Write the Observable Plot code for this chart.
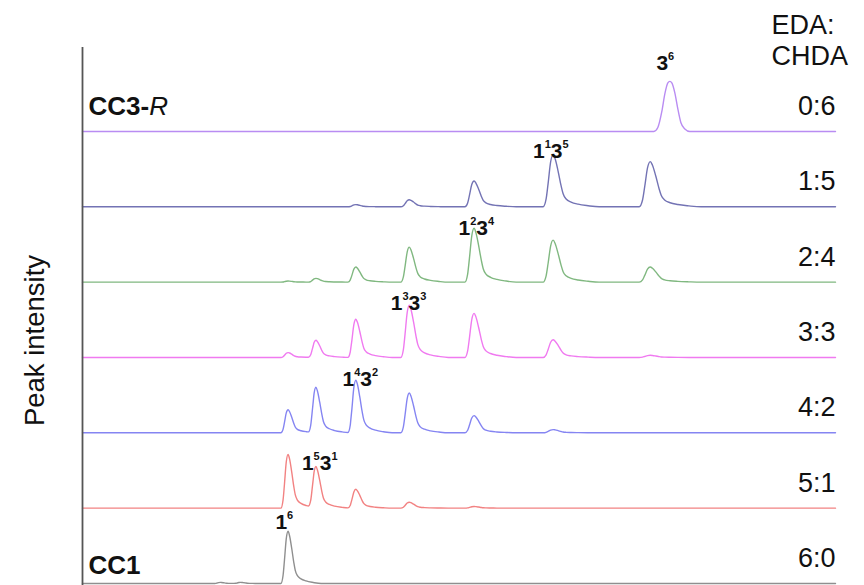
<!DOCTYPE html>
<html>
<head>
<meta charset="utf-8">
<script src="https://cdn.jsdelivr.net/npm/d3@7"></script>
<script src="https://cdn.jsdelivr.net/npm/@observablehq/plot@0.6"></script>
<style>
  html, body { margin: 0; padding: 0; background: #fff; }
  svg { display: block; }
</style>
</head>
<body>
<div id="chart"></div>
<script>
// ---- data ----
const ratios = ["6:0", "5:1", "4:2", "3:3", "2:4", "1:5", "0:6"];   // bottom -> top
const traceColors = ["#8f8f8f", "#f28282", "#8585f2", "#f07af0", "#80b880", "#7373b4", "#b98cf2"];
// peak positions (relative m/z, 0-100) and heights (relative intensity) per trace
const peakPositions = [
  [18.3, 21.0, 27.3],
  [27.3, 31.0, 36.3, 43.4, 52.0],
  [27.3, 31.0, 36.3, 43.4, 52.0, 62.5],
  [27.3, 31.0, 36.3, 43.4, 52.0, 62.5, 75.4],
  [27.3, 31.0, 36.3, 43.4, 52.0, 62.5, 75.4],
  [36.3, 43.4, 52.0, 62.5, 75.4],
  [78.0]
];
const peakHeights = [
  [2, 2, 97],
  [100, 76, 35, 11, 3],
  [43, 84, 98, 74, 32, 6],
  [9, 32, 71, 97, 82, 33, 4],
  [2, 7, 28, 65, 100, 78, 28],
  [4, 13, 48, 97, 84],
  [93]
];
// peak annotations
const labelText = ["1^6", "1^5 3^1", "1^4 3^2", "1^3 3^3", "1^2 3^4", "1^1 3^5", "3^6"];
const labelX = [26.8, 31.5, 36.9, 43.3, 52.3, 62.2, 77.4];
const labelY = [114, 224, 379, 521, 660, 804, 967];
const nameText = ["CC1", "CC3-R"];
const nameTrace = [0, 6];
const headerText = "EDA:\nCHDA";
const yLabel = "Peak intensity";

// ---- layout / style constants ----
const step = 140;            // intensity offset between stacked traces
const pxPerUnit = 7.53;      // x: px per relative m/z unit
// peak profile glyphs: [offset px, fraction of height]
const tailProfile = [[-10,0],[-7,0.15],[-5,0.45],[-2.5,0.86],[0,1],[2,0.92],[5,0.68],[8,0.4],[10,0.25],[13,0.15],[18,0.09],[25,0.05],[35,0.02],[46,0]];
const gaussProfile = [[-16,0],[-12,0.08],[-8,0.4],[-5,0.75],[-2,0.97],[0,1],[2,0.97],[5,0.77],[8,0.45],[11,0.18],[15,0.05],[20,0]];

function profileAt(prof, d) {
  if (d <= prof[0][0] || d >= prof[prof.length - 1][0]) return 0;
  for (let k = 1; k < prof.length; k++) {
    if (d <= prof[k][0]) {
      const [x0, y0] = prof[k - 1], [x1, y1] = prof[k];
      return y0 + (y1 - y0) * (d - x0) / (x1 - x0);
    }
  }
  return 0;
}

const rowsByTrace = ratios.map((r, i) => {
  const prof = i === 6 ? gaussProfile : tailProfile;
  const pos = peakPositions[i], hts = peakHeights[i];
  const wid = pos.map(p => i === 6 ? 1 : 0.5 + 0.008 * p);
  const xs = new Set([0, 100]);
  pos.forEach((p, j) => prof.forEach(([o]) => xs.add(+(p + o * wid[j] / pxPerUnit).toFixed(4))));
  const sorted = [...xs].filter(x => x >= 0 && x <= 100).sort((a, b) => a - b);
  return sorted.map(x => {
    let v = 0;
    pos.forEach((p, j) => { v += hts[j] * profileAt(prof, (x - p) * pxPerUnit / wid[j]); });
    return {x, y: i * step + v};
  });
});

const font = "'Liberation Sans', Arial, sans-serif";

const chart = Plot.plot({
  width: 864,
  height: 585,
  marginLeft: 82,
  marginRight: 29,
  marginTop: 47,
  marginBottom: 2,
  x: {domain: [0, 100], axis: null},
  y: {domain: [0, 996], axis: null},
  style: {fontFamily: font, background: "#fff", color: "#111", overflow: "visible"},
  marks: [
    ...rowsByTrace.map((rows, i) => Plot.line(rows, {x: "x", y: "y", stroke: traceColors[i], strokeWidth: 1.4, curve: "monotone-x"})),
    Plot.ruleX([0], {stroke: "#555", strokeWidth: 1.8, insetBottom: -3}),
    Plot.text(ratios, {x: 100, y: (d, i) => i * step, text: d => d, dy: -25, textAnchor: "end", fontSize: 27, fill: "#111"}),
    Plot.text([headerText], {frameAnchor: "top-right", textAnchor: "start", lineAnchor: "top", lineHeight: 1.16, dx: -64, dy: -36, fontSize: 27, fill: "#111"}),
    Plot.text([nameText[0]], {x: 0, y: nameTrace[0] * step, text: d => d, dx: 6, dy: -18, textAnchor: "start", fontSize: 26, fontWeight: "bold", fill: "#111"}),
    Plot.text([nameText[1]], {x: 0, y: nameTrace[1] * step, text: d => d, dx: 6, dy: -24.5, textAnchor: "start", fontSize: 26, fontWeight: "bold", fill: "#111"}),
    Plot.text(labelText, {x: (d, i) => labelX[i], y: (d, i) => labelY[i], text: d => d, fontSize: 21, fontWeight: "bold", fill: "#111"}),
    Plot.text([yLabel], {frameAnchor: "left", textAnchor: "middle", rotate: -90, dx: -47.6, dy: 25, fontSize: 27.5, fill: "#111"})
  ]
});

// superscripts in the peak labels, italic R in CC3-R
const supRaise = 10;
d3.select(chart).selectAll("text").each(function () {
  const t = d3.select(this);
  if (t.select("tspan").size()) return;
  const s = t.text();
  if (s.includes("^")) {
    t.text("");
    s.split(" ").forEach((part, i) => {
      const [b, sup] = part.split("^");
      const bt = t.append("tspan").text(b);
      if (i > 0) bt.attr("dy", supRaise);
      t.append("tspan").attr("font-size", 11).attr("dy", -supRaise).text(sup);
    });
  } else if (s === nameText[1]) {
    const k = s.lastIndexOf("-");
    t.text(s.slice(0, k + 1));
    t.append("tspan").attr("font-style", "italic").attr("font-weight", "normal").text(s.slice(k + 1));
  }
});

document.getElementById("chart").appendChild(chart);
</script>
</body>
</html>
